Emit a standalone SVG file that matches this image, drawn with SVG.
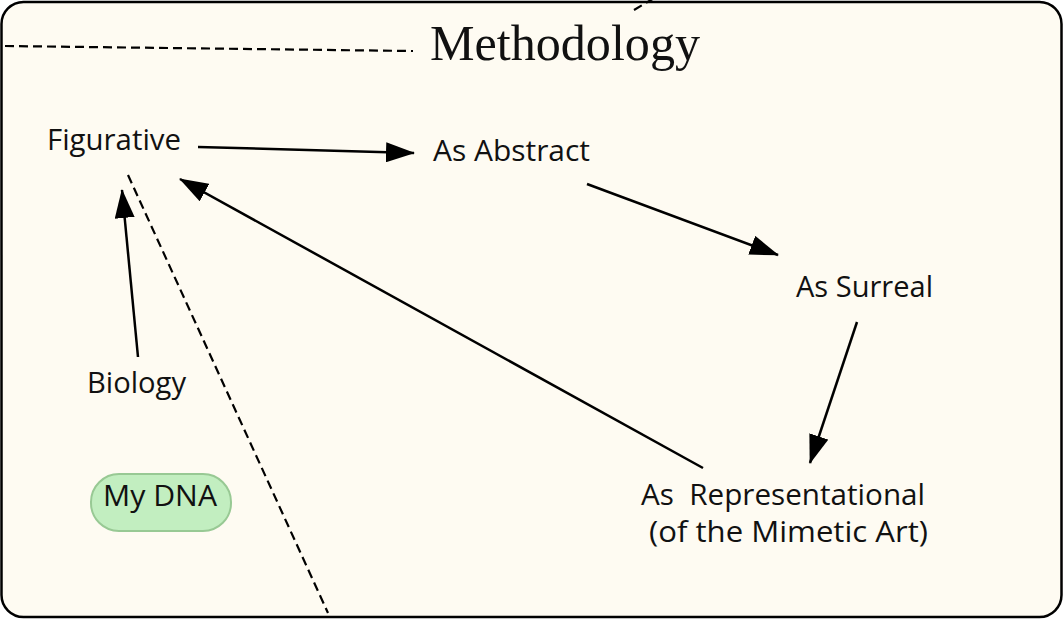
<svg xmlns="http://www.w3.org/2000/svg" width="1063" height="619" viewBox="0 0 1063 619">
  <style>
    .lbl { font-family: "Open Sans", "Lato", sans-serif; font-size: 29px; fill: #111; }
    .title { font-family: "Liberation Serif", serif; font-size: 50px; fill: #111; }
    .edge { stroke: #000; stroke-width: 2.5; fill: none; marker-end: url(#arrow); }
    .dash { stroke: #000; stroke-width: 2.2; fill: none; stroke-dasharray: 9 5; }
  </style>
  <defs>
    <marker id="arrow" viewBox="0 0 29 20" refX="28" refY="10" markerWidth="29" markerHeight="20" markerUnits="userSpaceOnUse" orient="auto">
      <path d="M0,0 L29,10 L0,20 z" fill="#000"/>
    </marker>
  </defs>
  <rect x="1.5" y="2" width="1060" height="615" rx="22" ry="22" fill="#fefbf2" stroke="#000" stroke-width="2.5"/>

  <g id="decor">
    <line class="dash" x1="5" y1="46" x2="413" y2="51"/>
    <line class="dash" x1="634" y1="10" x2="656" y2="-3"/>
    <line class="dash" x1="128" y1="175" x2="328" y2="613"/>
  </g>

  <g id="title">
    <text class="title" x="430" y="60" textLength="270" lengthAdjust="spacingAndGlyphs">Methodology</text>
  </g>

  <g id="connectors">
    <line class="edge" x1="198" y1="147" x2="414" y2="153"/>
    <line class="edge" x1="587" y1="184" x2="778" y2="255"/>
    <line class="edge" x1="857" y1="322" x2="810" y2="463"/>
    <line class="edge" x1="703" y1="468" x2="180" y2="179"/>
    <line class="edge" x1="138" y1="357" x2="122" y2="190"/>
  </g>

  <g id="node-figurative">
    <text class="lbl" x="47" y="150" textLength="134" lengthAdjust="spacingAndGlyphs">Figurative</text>
  </g>
  <g id="node-abstract">
    <text class="lbl" x="433" y="161" textLength="157" lengthAdjust="spacingAndGlyphs">As Abstract</text>
  </g>
  <g id="node-surreal">
    <text class="lbl" x="796" y="297" textLength="137" lengthAdjust="spacingAndGlyphs">As Surreal</text>
  </g>
  <g id="node-biology">
    <text class="lbl" x="87" y="393" textLength="99" lengthAdjust="spacingAndGlyphs">Biology</text>
  </g>
  <g id="node-dna">
    <rect x="91" y="474" width="140" height="57" rx="28" ry="28" fill="#c2eec0" stroke="#98c994" stroke-width="2"/>
    <text class="lbl" x="103" y="506" textLength="114" lengthAdjust="spacingAndGlyphs">My DNA</text>
  </g>
  <g id="node-representational">
    <text class="lbl" x="641" y="505" textLength="284" lengthAdjust="spacingAndGlyphs" xml:space="preserve">As  Representational</text>
    <text class="lbl" x="649" y="542" textLength="279" lengthAdjust="spacingAndGlyphs">(of the Mimetic Art)</text>
  </g>
</svg>
